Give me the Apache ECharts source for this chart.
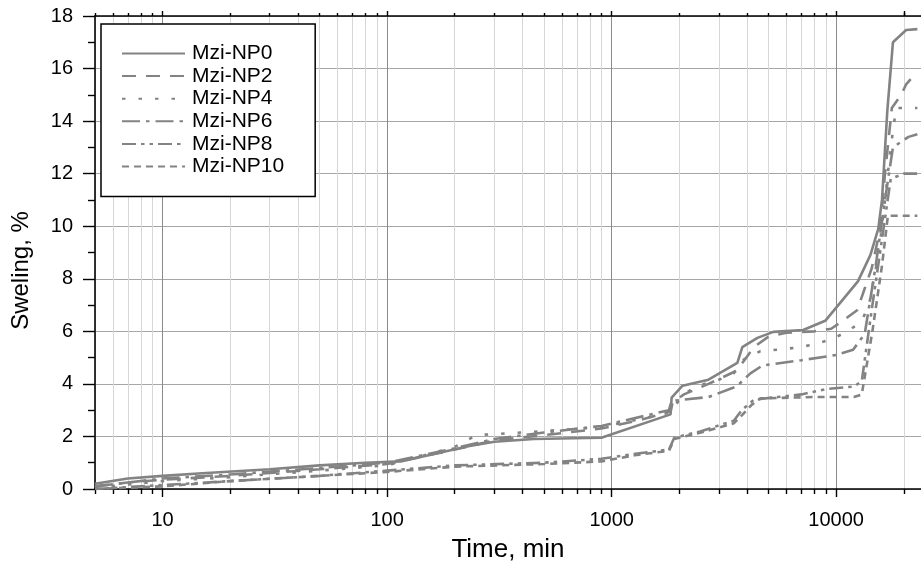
<!DOCTYPE html>
<html>
<head>
<meta charset="utf-8">
<script src="https://cdn.jsdelivr.net/npm/echarts@6/dist/echarts.min.js"></script>
<style>
html,body{margin:0;padding:0;background:#fff;}
#chart{width:921px;height:568px;}
</style>
</head>
<body>
<div id="chart"></div>
<script>
// ---- data ----
const seriesNames = ['Mzi-NP0','Mzi-NP2','Mzi-NP4','Mzi-NP6','Mzi-NP8','Mzi-NP10'];

const np0Time = [5,7,10,15,30,50,80,115,230,300,450,900,1830,1850,2070,2700,3630,3820,4460,5250,7130,8940,12500,14200,15400,16000,16900,17900,20500,23000];
const np0Val  = [0.2,0.4,0.5,0.6,0.75,0.9,1.0,1.05,1.63,1.8,1.9,1.95,2.84,3.48,3.93,4.16,4.8,5.4,5.75,5.98,6.05,6.4,7.9,8.9,9.9,11.0,14.4,17.0,17.47,17.5];

const np2Time = [5,7,10,20,50,100,200,300,500,900,1300,1830,1870,2100,2700,3600,3900,4300,5000,6000,8000,9500,10700,12400,14400,15700,16500,17700,19500,20500,21500];
const np2Val  = [0.1,0.25,0.35,0.5,0.75,0.95,1.5,1.85,2.05,2.3,2.6,2.95,3.3,3.6,4.0,4.5,4.9,5.4,5.8,5.95,6.0,6.1,6.4,6.8,8.4,9.9,12.0,14.5,15.0,15.4,15.6];

const np4Time = [5,10,20,50,100,200,250,400,900,1800,2100,2400,2900,3500,3820,4600,5500,6500,8000,9500,11300,13000,14000,15500,16500,17500,18500,23000];
const np4Val  = [0.05,0.3,0.45,0.7,0.9,1.6,2.05,2.15,2.35,2.9,3.6,3.93,4.1,4.4,4.9,5.25,5.3,5.37,5.5,5.7,6.0,6.4,7.0,9.0,11.0,13.0,14.5,14.5];

const np6Time = [5,10,20,50,100,200,300,500,900,1800,1850,2700,3600,4150,4700,7000,10000,11900,13400,15000,16500,17900,21000,23000];
const np6Val  = [0.1,0.4,0.55,0.8,1.0,1.55,1.9,2.15,2.4,3.0,3.35,3.5,3.9,4.4,4.7,4.9,5.1,5.3,5.9,8.5,11.0,13.0,13.4,13.5];

const np8Time = [5,10,20,50,100,200,500,900,1300,1800,1900,2500,3500,3800,4300,5500,7000,9000,12000,13000,14500,16000,17500,20000,23000];
const np8Val  = [0.0,0.15,0.3,0.5,0.7,0.9,1.0,1.15,1.35,1.5,1.95,2.2,2.6,3.0,3.4,3.5,3.6,3.8,3.9,4.1,7.0,9.5,11.8,12.0,12.0];

const np10Time = [5,10,20,50,100,200,500,900,1300,1800,1900,2500,3500,3800,4200,4600,8000,12000,13000,14500,16000,17000,23000];
const np10Val  = [0.0,0.1,0.3,0.5,0.65,0.85,0.95,1.05,1.3,1.45,1.9,2.15,2.5,2.8,3.2,3.45,3.5,3.5,3.6,6.0,8.5,10.4,10.4];

const xMajorTicks = [10,100,1000,10000];
const xMinorTicks = [5,6,7,8,9,20,30,40,50,60,70,80,90,200,300,400,500,600,700,800,900,2000,3000,4000,5000,6000,7000,8000,9000,20000];
const xLabels = [10,100,1000,10000];

// ---- chart ----
const times = [np0Time,np2Time,np4Time,np6Time,np8Time,np10Time];
const vals  = [np0Val,np2Val,np4Val,np6Val,np8Val,np10Val];
const dashes = ['solid',[14,10],[3.5,13],[18,6,3.5,6],[14,5,3.5,5,3.5,5],[7,5]];
const FONT = 'Liberation Sans';
const lineColor = '#838383';

const chart = echarts.init(document.getElementById('chart'));
const xMin = 5, xMax = 23870;

function xAx(pos, ticks, major, withLabels, split, tickLen) {
  return {
    type:'log', logBase:10, min:xMin, max:xMax, position:pos,
    axisLine:{show: major, lineStyle:{color:'#000', width:1.6}},
    axisTick:{show:true, customValues:ticks, inside:false, length:tickLen, lineStyle:{color:'#000', width:1.4}},
    axisLabel:{show:withLabels, customValues: withLabels? xLabels: undefined, color:'#000', fontFamily:FONT, fontSize:20, margin:21,
      formatter:(v)=>String(Math.round(v))},
    splitLine:{show:split, lineStyle:{color: major?'#8c8c8c':'#d6d6d6', width:1}},
    minorTick:{show:false}
  };
}

const xAxes = [
  Object.assign(xAx('bottom', xMajorTicks, true, true, true, 8), {name:'Time, min', nameLocation:'middle', nameGap:48, nameTextStyle:{color:'#000', fontFamily:FONT, fontSize:26}}),
  xAx('bottom', xMinorTicks, false, false, true, 5),
  xAx('top', xMajorTicks.concat([20000]), true, false, false, 5),
  xAx('top', xMinorTicks, false, false, false, 3)
];

const series = seriesNames.map((n,i)=>({
  name:n, type:'line', xAxisIndex:0, yAxisIndex:0,
  data: times[i].map((t,j)=>[t, vals[i][j]]),
  showSymbol:false, symbol:'none', smooth:false, animation:false,
  lineStyle:{color:lineColor, width:2.6, type:dashes[i], cap:'butt'},
  itemStyle:{color:lineColor},
  z: 10 - i
}));

chart.setOption({
  animation:false,
  backgroundColor:'#fff',
  grid:{left:95, right:0, top:16, bottom:74, containLabel:false},
  legend:{
    orient:'vertical', left:101, top:24,
    data:seriesNames,
    itemWidth:63, itemHeight:14, itemGap:1.6,
    padding:[19,31,19.5,20],
    borderColor:'#000', borderWidth:1.5,
    backgroundColor:'#fff',
    itemStyle:{opacity:0},
    textStyle:{color:'#000', fontFamily:FONT, fontSize:21, padding:[0,0,0,2]}
  },
  xAxis:xAxes,
  yAxis:[{
    type:'value', min:0, max:18, interval:2, position:'left',
    name:'Sweling, %', nameLocation:'middle', nameGap:62,
    nameTextStyle:{color:'#000', fontFamily:FONT, fontSize:24, padding:[0,36,0,0]},
    axisLine:{show:true, lineStyle:{color:'#000', width:1.6}},
    axisTick:{show:true, length:12, lineStyle:{color:'#000', width:1.4}},
    minorTick:{show:true, splitNumber:2, length:7, lineStyle:{color:'#000', width:1.4}},
    axisLabel:{color:'#000', fontFamily:FONT, fontSize:20, margin:22},
    splitLine:{show:true, lineStyle:{color:'#a6a6a6', width:1}}
  }],
  series:series
});
</script>
</body>
</html>
